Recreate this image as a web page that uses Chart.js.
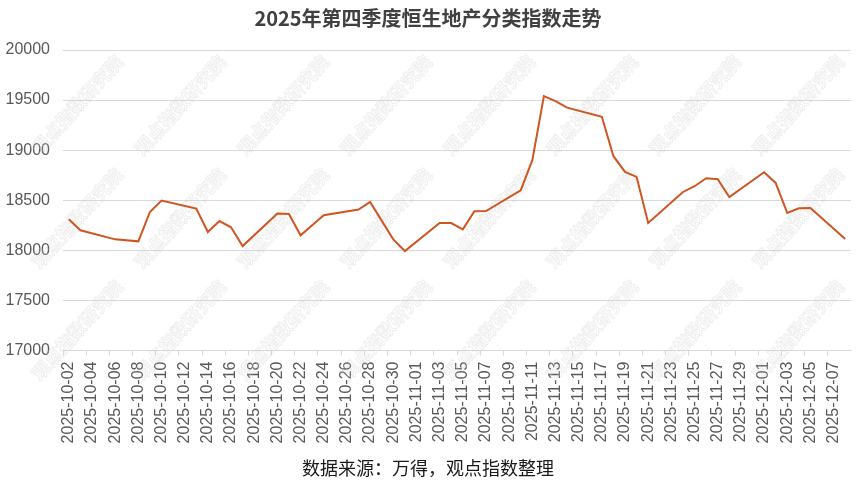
<!DOCTYPE html>
<html>
<head>
<meta charset="utf-8">
<script src="https://cdn.jsdelivr.net/npm/chart.js@4.4.1/dist/chart.umd.min.js"></script>
<style>
  html, body { margin: 0; padding: 0; background: #fff; }
  #wrap { width: 861px; height: 491px; }
</style>
</head>
<body>
<div id="wrap"><canvas id="c"></canvas></div>
<script>
// trading days (HK) and index closes
const tradeDates = [
  '2025-10-02','2025-10-03','2025-10-06','2025-10-08','2025-10-09','2025-10-10',
  '2025-10-13','2025-10-14','2025-10-15','2025-10-16','2025-10-17',
  '2025-10-20','2025-10-21','2025-10-22','2025-10-23','2025-10-24',
  '2025-10-27','2025-10-28','2025-10-30','2025-10-31',
  '2025-11-03','2025-11-04','2025-11-05','2025-11-06','2025-11-07',
  '2025-11-10','2025-11-11','2025-11-12','2025-11-13','2025-11-14',
  '2025-11-17','2025-11-18','2025-11-19','2025-11-20','2025-11-21',
  '2025-11-24','2025-11-25','2025-11-26','2025-11-27','2025-11-28',
  '2025-12-01','2025-12-02','2025-12-03','2025-12-04','2025-12-05',
  '2025-12-08'
];
const hsiValues = [
  18310, 18200, 18110, 18090, 18383, 18497,
  18417, 18183, 18293, 18230, 18043,
  18367, 18363, 18150, 18250, 18350,
  18407, 18483, 18110, 17993,
  18273, 18273, 18210, 18390, 18393,
  18600, 18900, 19540, 19490, 19425,
  19333, 18940, 18783, 18733, 18273,
  18583, 18640, 18720, 18710, 18533,
  18780, 18673, 18373, 18420, 18423,
  18113
];
const axisStart = '2025-10-02';
const axisEnd = '2025-12-08';
const yTicks = [17000, 17500, 18000, 18500, 19000, 19500, 20000];

const titleText = '2025年第四季度恒生地产分类指数走势';
const sourceText = '数据来源：万得，观点指数整理';
const markText = '观点指数研究院';

// calendar day axis (date axis like the original)
const dayLabels = [];
let d = new Date(axisStart + 'T00:00:00Z');
const last = new Date(axisEnd + 'T00:00:00Z');
while (d <= last) {
  dayLabels.push(d.toISOString().slice(0, 10));
  d = new Date(d.getTime() + 86400000);
}
const series = dayLabels.map(lb => {
  const i = tradeDates.indexOf(lb);
  return i >= 0 ? hsiValues[i] : null;
});

const watermark = {
  id: 'watermark',
  beforeDatasetsDraw(chart) {
    const ctx = chart.ctx;
    ctx.save();
    ctx.font = 'bold 18px "Noto Sans CJK SC"';
    ctx.textAlign = 'center';
    ctx.textBaseline = 'middle';
    ctx.strokeStyle = 'rgba(205,205,205,0.35)';
    ctx.lineWidth = 1;
    [105, 218, 330].forEach(y => {
      for (let i = 0; i < 8; i++) {
        ctx.save();
        ctx.translate(77 + 103 * i, y);
        ctx.rotate(-48 * Math.PI / 180);
        ctx.strokeText(markText, 0, 0);
        ctx.restore();
      }
    });
    ctx.restore();
  }
};

new Chart(document.getElementById('c'), {
  type: 'line',
  data: {
    labels: dayLabels,
    datasets: [{
      data: series,
      borderColor: '#cf5521',
      borderWidth: 2,
      pointRadius: 0,
      tension: 0,
      spanGaps: true
    }]
  },
  options: {
    responsive: true,
    maintainAspectRatio: false,
    animation: false,
    layout: { padding: { left: 5, right: 10, top: 0, bottom: 0 } },
    plugins: {
      legend: { display: false },
      tooltip: { enabled: false },
      title: {
        display: true,
        text: titleText,
        color: '#404040',
        font: { family: '"Noto Sans CJK SC"', size: 20, weight: 'bold' },
        padding: { top: 6, bottom: 20 }
      },
      subtitle: {
        display: true,
        position: 'bottom',
        text: sourceText,
        color: '#1a1a1a',
        font: { family: '"Noto Sans CJK SC"', size: 18, weight: 'normal' },
        padding: { top: 8, bottom: 12 }
      }
    },
    scales: {
      x: {
        type: 'category',
        offset: true,
        afterFit: s => { s.paddingLeft = 0; s.paddingRight = 0; },
        border: { display: true, color: '#d9d9d9' },
        grid: {
          offset: true,
          drawOnChartArea: false,
          drawTicks: true,
          tickLength: 5,
          color: c => (c.index % 2 === 0 ? '#d9d9d9' : 'rgba(0,0,0,0)')
        },
        ticks: {
          autoSkip: false,
          maxRotation: 90,
          minRotation: 90,
          padding: 6,
          color: '#595959',
          font: { family: '"Liberation Sans"', size: 16 },
          callback: function (v, i) { return i % 2 === 0 ? this.getLabelForValue(v) : ''; }
        }
      },
      y: {
        min: 17000,
        max: 20000,
        afterBuildTicks: s => { s.ticks = yTicks.map(v => ({ value: v })); },
        afterFit: s => { s.width = 58; },
        border: { display: false },
        grid: { color: '#d9d9d9', drawTicks: false },
        ticks: {
          padding: 13,
          color: '#595959',
          font: { family: '"Liberation Sans"', size: 16 },
          callback: v => String(v)
        }
      }
    }
  },
  plugins: [watermark]
});
</script>
</body>
</html>
